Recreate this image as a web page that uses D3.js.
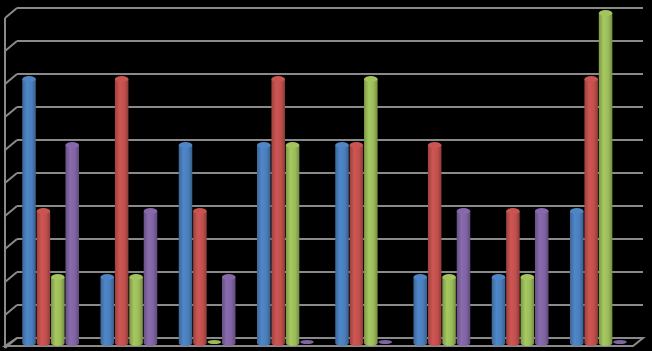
<!DOCTYPE html>
<html><head><meta charset="utf-8">
<script src="https://cdn.jsdelivr.net/npm/d3@7"></script>
<style>html,body{margin:0;padding:0;background:#000;}svg{display:block;}</style>
</head><body>
<svg id="c" width="652" height="351"></svg>
<script>
const categories = ["1","2","3","4","5","6","7","8"];
const seriesNames = ["Series1","Series2","Series3","Series4"];
const seriesColors = ["#4a7ebb","#c0504d","#9bbb59","#8064a2"];
const s1 = [8,2,6,6,6,2,2,4];
const s2 = [4,8,4,8,6,6,4,8];
const s3 = [2,2,0,6,8,2,2,10];
const s4 = [6,4,2,0,0,4,4,0];
const seriesValues = [s1,s2,s3,s4];
const yTicks = [0,1,2,3,4,5,6,7,8,9,10];

const svg = d3.select("#c");
const W = 652, H = 351;
svg.append("rect").attr("width",W).attr("height",H).attr("fill","#000");

const y = d3.scaleLinear().domain([0,10]).range([338,8]);
const x0 = d3.scaleBand().domain(categories).range([11.5,637.5]);
const x1 = d3.scaleBand().domain(seriesNames).range([0,x0.bandwidth()]).paddingOuter(0.745).paddingInner(0.06);

const depthX = 12, depthY = 10;
const grid = "#8a8a8a";
const g = svg.append("g");

yTicks.forEach(t => {
  const yy = y(t);
  if (t > 0) {
    g.append("line").attr("x1",17).attr("x2",643).attr("y1",yy).attr("y2",yy)
      .attr("stroke",grid).attr("stroke-width",2);
  }
  g.append("line").attr("x1",5).attr("y1",yy+depthY).attr("x2",17).attr("y2",yy)
    .attr("stroke",grid).attr("stroke-width",2);
});
g.append("line").attr("x1",5).attr("x2",5).attr("y1",y(10)+depthY).attr("y2",y(0)+depthY)
  .attr("stroke",grid).attr("stroke-width",2);
g.append("path")
  .attr("d",`M17,${y(0)} L643,${y(0)} L633,${y(0)+depthY-2} L5,${y(0)+depthY-2} Z`)
  .attr("fill","none").attr("stroke",grid).attr("stroke-width",2);

const defs = svg.append("defs");
seriesColors.forEach((c,i) => {
  const base = d3.color(c);
  const grad = defs.append("linearGradient").attr("id","gr"+i)
    .attr("x1","0%").attr("x2","100%").attr("y1","0%").attr("y2","0%");
  grad.append("stop").attr("offset","0%").attr("stop-color",base.darker(0.6));
  grad.append("stop").attr("offset","35%").attr("stop-color",base.brighter(0.2));
  grad.append("stop").attr("offset","70%").attr("stop-color",base);
  grad.append("stop").attr("offset","100%").attr("stop-color",base.darker(0.8));
});

const barOff = 5;
const ry = 3;
categories.forEach((cat, ci) => {
  seriesNames.forEach((sn, si) => {
    const v = seriesValues[si][ci];
    const bx = x0(cat) + x1(sn);
    const bw = x1.bandwidth();
    const cx = bx + bw/2;
    const yb = y(0) + barOff;
    const yt = y(v) + barOff;
    const col = d3.color(seriesColors[si]);
    if (v > 0) {
      g.append("path")
        .attr("d",`M${bx},${yt} L${bx},${yb} A${bw/2},${ry} 0 0 0 ${bx+bw},${yb} L${bx+bw},${yt} Z`)
        .attr("fill",`url(#gr${si})`);
      g.append("ellipse").attr("cx",cx).attr("cy",yt).attr("rx",bw/2).attr("ry",ry)
        .attr("fill",col.brighter(0.15));
    } else {
      g.append("ellipse").attr("cx",cx).attr("cy",yb-1).attr("rx",bw/2).attr("ry",2)
        .attr("fill",col);
    }
  });
});
</script>
</body></html>
